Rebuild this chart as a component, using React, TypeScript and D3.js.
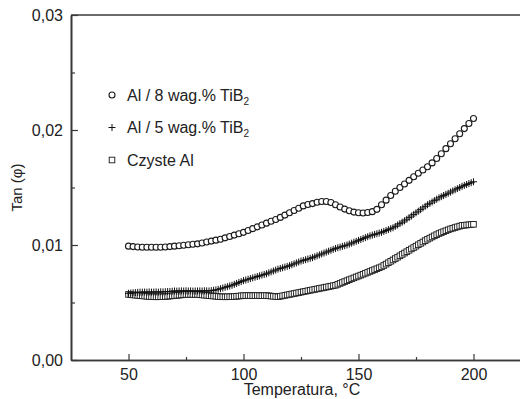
import React, { useRef, useEffect } from 'react';
import * as d3 from 'd3';

// temperature grid (°C) for the dense series and for the circle series
const tempsFine = [
  50, 51, 52, 53, 54, 55, 56, 57, 58, 59,
  60, 61, 62, 63, 64, 65, 66, 67, 68, 69,
  70, 71, 72, 73, 74, 75, 76, 77, 78, 79,
  80, 81, 82, 83, 84, 85, 86, 87, 88, 89,
  90, 91, 92, 93, 94, 95, 96, 97, 98, 99,
  100, 101, 102, 103, 104, 105, 106, 107, 108, 109,
  110, 111, 112, 113, 114, 115, 116, 117, 118, 119,
  120, 121, 122, 123, 124, 125, 126, 127, 128, 129,
  130, 131, 132, 133, 134, 135, 136, 137, 138, 139,
  140, 141, 142, 143, 144, 145, 146, 147, 148, 149,
  150, 151, 152, 153, 154, 155, 156, 157, 158, 159,
  160, 161, 162, 163, 164, 165, 166, 167, 168, 169,
  170, 171, 172, 173, 174, 175, 176, 177, 178, 179,
  180, 181, 182, 183, 184, 185, 186, 187, 188, 189,
  190, 191, 192, 193, 194, 195, 196, 197, 198, 199,
  200,
];

const tempsCoarse = [
  50, 52, 54, 56, 58, 60, 62, 64, 66, 68,
  70, 72, 74, 76, 78, 80, 82, 84, 86, 88,
  90, 92, 94, 96, 98, 100, 102, 104, 106, 108,
  110, 112, 114, 116, 118, 120, 122, 124, 126, 128,
  130, 132, 134, 136, 138, 140, 142, 144, 146, 148,
  150, 152, 154, 156, 158, 160, 162, 164, 166, 168,
  170, 172, 174, 176, 178, 180, 182, 184, 186, 188,
  190, 192, 194, 196, 198, 200,
];

// Al / 8 wag.% TiB2 (circles)
const tanAl8 = [
  0.0099, 0.00986, 0.00982, 0.0098, 0.0098, 0.0098, 0.0098, 0.0098, 0.00982, 0.00986,
  0.0099, 0.00994, 0.00998, 0.01002, 0.01006, 0.0101, 0.01018, 0.01026, 0.01034, 0.01042,
  0.0105, 0.01062, 0.01074, 0.01086, 0.01098, 0.0111, 0.01126, 0.01142, 0.01158, 0.01174,
  0.0119, 0.01206, 0.01222, 0.0124, 0.0126, 0.0128, 0.013, 0.0132, 0.0134, 0.01352,
  0.0136, 0.01372, 0.01378, 0.01378, 0.0137, 0.0135, 0.0133, 0.01312, 0.01298, 0.01286,
  0.0128, 0.01278, 0.01282, 0.0129, 0.0131, 0.0135, 0.0139, 0.0143, 0.01468, 0.015,
  0.0153, 0.01562, 0.01594, 0.01624, 0.01652, 0.0168, 0.01714, 0.01752, 0.01794, 0.01838,
  0.0188, 0.01924, 0.01968, 0.02012, 0.02056, 0.021,
];

// Al / 5 wag.% TiB2 (crosses)
const tanAl5 = [
  0.0058, 0.00582, 0.00584, 0.00586, 0.00588, 0.0059, 0.0059, 0.00591, 0.0059, 0.00592,
  0.0059, 0.00591, 0.00592, 0.0059, 0.00593, 0.00592, 0.00594, 0.00595, 0.00596, 0.00598,
  0.006, 0.00599, 0.006, 0.00601, 0.006, 0.00602, 0.006, 0.00601, 0.00599, 0.006,
  0.006, 0.00601, 0.006, 0.00602, 0.00601, 0.006, 0.00603, 0.00606, 0.0061, 0.00614,
  0.0062, 0.00626, 0.00632, 0.00638, 0.00644, 0.0065, 0.00658, 0.00666, 0.00674, 0.00682,
  0.0069, 0.00696, 0.00702, 0.00708, 0.00714, 0.0072, 0.00726, 0.00732, 0.00738, 0.00744,
  0.0075, 0.00758, 0.00766, 0.00774, 0.00782, 0.0079, 0.00796, 0.00802, 0.00808, 0.00814,
  0.0082, 0.00828, 0.00836, 0.00844, 0.00852, 0.0086, 0.00866, 0.00872, 0.00878, 0.00884,
  0.0089, 0.00898, 0.00906, 0.00914, 0.00922, 0.0093, 0.00938, 0.00946, 0.00954, 0.00962,
  0.0097, 0.00976, 0.00982, 0.00988, 0.00994, 0.01, 0.01008, 0.01016, 0.01024, 0.01032,
  0.0104, 0.01048, 0.01056, 0.01064, 0.01072, 0.0108, 0.01086, 0.01092, 0.01098, 0.01104,
  0.0111, 0.01118, 0.01126, 0.01134, 0.01142, 0.0115, 0.01162, 0.01174, 0.01186, 0.01198,
  0.0121, 0.01224, 0.01238, 0.01252, 0.01266, 0.0128, 0.01294, 0.01308, 0.01322, 0.01336,
  0.0135, 0.01362, 0.01374, 0.01386, 0.01398, 0.0141, 0.0142, 0.0143, 0.0144, 0.0145,
  0.0146, 0.0147, 0.0148, 0.0149, 0.015, 0.0151, 0.01518, 0.01526, 0.01534, 0.01542,
  0.0155,
];

// Czyste Al (squares)
const tanAl = [
  0.0057, 0.00568, 0.00566, 0.00564, 0.00562, 0.0056, 0.00558, 0.00556, 0.00554, 0.00552,
  0.0055, 0.0055, 0.00549, 0.0055, 0.0055, 0.0055, 0.00552, 0.00554, 0.00556, 0.00558,
  0.0056, 0.00562, 0.00564, 0.00566, 0.00568, 0.0057, 0.0057, 0.00571, 0.0057, 0.0057,
  0.0057, 0.00568, 0.00566, 0.00564, 0.00562, 0.0056, 0.00558, 0.00556, 0.00554, 0.00552,
  0.0055, 0.0055, 0.00549, 0.0055, 0.0055, 0.0055, 0.00552, 0.00554, 0.00556, 0.00558,
  0.0056, 0.0056, 0.00561, 0.0056, 0.0056, 0.0056, 0.00561, 0.0056, 0.00559, 0.0056,
  0.0056, 0.00558, 0.00556, 0.00554, 0.00552, 0.0055, 0.00554, 0.00558, 0.00562, 0.00566,
  0.0057, 0.00574, 0.00578, 0.00582, 0.00586, 0.0059, 0.00594, 0.00598, 0.00602, 0.00606,
  0.0061, 0.00614, 0.00618, 0.00622, 0.00626, 0.0063, 0.00634, 0.00638, 0.00642, 0.00646,
  0.0065, 0.00658, 0.00666, 0.00674, 0.00682, 0.0069, 0.00698, 0.00706, 0.00714, 0.00722,
  0.0073, 0.00738, 0.00746, 0.00754, 0.00762, 0.0077, 0.00778, 0.00786, 0.00794, 0.00802,
  0.0081, 0.00822, 0.00834, 0.00846, 0.00858, 0.0087, 0.00882, 0.00894, 0.00906, 0.00918,
  0.0093, 0.00942, 0.00954, 0.00966, 0.00978, 0.0099, 0.01002, 0.01014, 0.01026, 0.01038,
  0.0105, 0.0106, 0.0107, 0.0108, 0.0109, 0.011, 0.01108, 0.01116, 0.01124, 0.01132,
  0.0114, 0.01146, 0.01152, 0.01158, 0.01164, 0.0117, 0.01172, 0.01174, 0.01176, 0.01178,
  0.0118,
];

const xMajorTicks = [50, 100, 150, 200];
const xMinorTicks = [75, 125, 175];
const yMajorTicks = [0, 0.01, 0.02, 0.03];
const yMinorTicks = [0.005, 0.015, 0.025];
const legendLabels = ['Al / 8 wag.% TiB', 'Al / 5 wag.% TiB', 'Czyste Al'];
const legendSubs = ['2', '2', ''];

const App = () => {
  const ref = useRef<SVGSVGElement>(null);

  useEffect(() => {
    const width = 520;
    const height = 399;
    const margin = { top: 15, right: -11, bottom: 39, left: 71 };
    const font = 'Liberation Sans, Arial, Helvetica, sans-serif';
    const ink = '#3a3a3a';

    const svg = d3.select(ref.current);
    svg.selectAll('*').remove();

    const x = d3.scaleLinear().domain([25, 225]).range([margin.left, width - margin.right]);
    const y = d3.scaleLinear().domain([0, 0.03]).range([height - margin.bottom, margin.top]);
    const comma = (d: number) => d3.format('.2f')(d).replace('.', ',');

    // top frame line
    svg.append('line')
      .attr('x1', x(25)).attr('x2', x(225))
      .attr('y1', y(0.03)).attr('y2', y(0.03))
      .attr('stroke', ink).attr('stroke-width', 1.6);

    // x axis (ticks point inward)
    const gx = svg.append('g').attr('transform', `translate(0,${y(0)})`);
    gx.call(d3.axisBottom(x).tickValues(xMajorTicks).tickSizeInner(-6).tickSizeOuter(0).tickPadding(9));
    gx.append('g').call(d3.axisBottom(x).tickValues(xMinorTicks).tickSizeInner(-3).tickSizeOuter(0).tickFormat(() => ''));
    gx.selectAll('.domain').attr('stroke', ink).attr('stroke-width', 1.6);
    gx.selectAll('line').attr('stroke', ink).attr('stroke-width', 1.2);
    gx.selectAll('text').attr('font-size', 16).attr('font-family', font).attr('fill', '#222');

    // y axis
    const gy = svg.append('g').attr('transform', `translate(${x(25)},0)`);
    gy.call(d3.axisLeft(y).tickValues(yMajorTicks).tickSizeInner(-7).tickSizeOuter(0).tickPadding(8).tickFormat((d) => comma(+d)));
    gy.append('g').call(d3.axisLeft(y).tickValues(yMinorTicks).tickSizeInner(-4).tickSizeOuter(0).tickFormat(() => ''));
    gy.selectAll('.domain').attr('stroke', ink).attr('stroke-width', 1.6);
    gy.selectAll('line').attr('stroke', ink).attr('stroke-width', 1.2);
    gy.selectAll('text').attr('font-size', 16).attr('font-family', font).attr('fill', '#222');

    // axis titles
    svg.append('text')
      .attr('x', 302).attr('y', 395)
      .attr('text-anchor', 'middle')
      .attr('font-family', font).attr('font-size', 16).attr('fill', '#222')
      .text('Temperatura, °C');

    svg.append('text')
      .attr('transform', `translate(17,${(y(0) + y(0.03)) / 2}) rotate(-90)`)
      .attr('dy', '0.35em')
      .attr('text-anchor', 'middle')
      .attr('font-family', font).attr('font-size', 15).attr('fill', '#222')
      .text('Tan (φ)');

    const plot = svg.append('g');

    // Czyste Al - squares
    plot.selectAll('rect.sq')
      .data(tempsFine.map((t, i) => [t, tanAl[i]]))
      .enter().append('rect')
      .attr('class', 'sq')
      .attr('x', (d) => x(d[0]) - 2.8)
      .attr('y', (d) => y(d[1]) - 2.8)
      .attr('width', 5.6).attr('height', 5.6)
      .attr('fill', 'white')
      .attr('stroke', '#1a1a1a').attr('stroke-width', 0.9);

    // Al / 5 - crosses
    plot.selectAll('path.cr')
      .data(tempsFine.map((t, i) => [t, tanAl5[i]]))
      .enter().append('path')
      .attr('class', 'cr')
      .attr('d', (d) => `M${x(d[0]) - 3.5},${y(d[1])}h7M${x(d[0])},${y(d[1]) - 3.5}v7`)
      .attr('stroke', '#111').attr('stroke-width', 1).attr('fill', 'none');

    // Al / 8 - circles
    plot.selectAll('circle.ci')
      .data(tempsCoarse.map((t, i) => [t, tanAl8[i]]))
      .enter().append('circle')
      .attr('class', 'ci')
      .attr('cx', (d) => x(d[0]))
      .attr('cy', (d) => y(d[1]))
      .attr('r', 3)
      .attr('fill', 'white')
      .attr('stroke', '#1a1a1a').attr('stroke-width', 1.1);

    // legend
    const legend = svg.selectAll('.legend')
      .data(legendLabels)
      .enter().append('g')
      .attr('class', 'legend')
      .attr('transform', (d, i) => `translate(112, ${95 + i * 32.5})`);

    legend.each(function (d, i) {
      const g = d3.select(this);
      if (i === 0) {
        g.append('circle').attr('r', 3).attr('fill', 'white').attr('stroke', '#1a1a1a').attr('stroke-width', 1.1);
      } else if (i === 1) {
        g.append('path').attr('d', 'M-3.5,0h7M0,-3.5v7').attr('stroke', '#111').attr('stroke-width', 1);
      } else {
        g.append('rect').attr('x', -2.8).attr('y', -2.8).attr('width', 5.6).attr('height', 5.6)
          .attr('fill', 'white').attr('stroke', '#1a1a1a').attr('stroke-width', 0.9);
      }
      const t = g.append('text')
        .attr('x', 15).attr('dy', '0.35em')
        .attr('font-family', font).attr('font-size', 16).attr('fill', '#222');
      t.append('tspan').text(d);
      if (legendSubs[i]) {
        t.append('tspan').attr('font-size', 10).attr('dy', 4).text(legendSubs[i]);
      }
    });
  }, []);

  return (
    <svg
      ref={ref}
      width={520}
      height={399}
      style={{ position: 'absolute', left: 0, top: 0, background: 'white' }}
    />
  );
};

export default App;
